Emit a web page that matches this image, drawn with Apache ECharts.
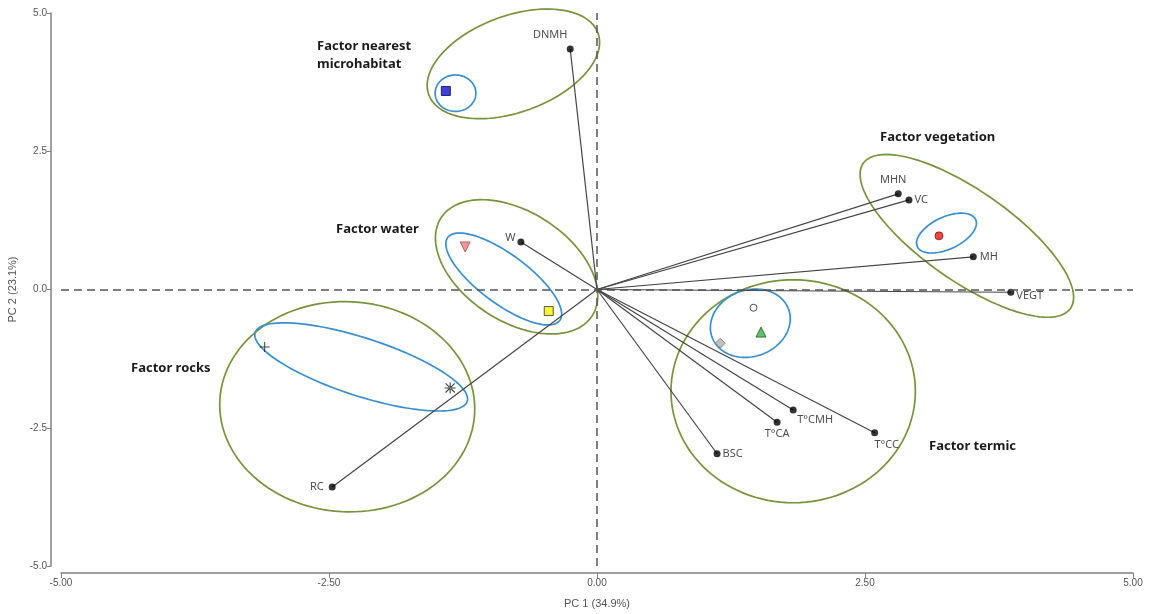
<!DOCTYPE html>
<html>
<head>
<meta charset="utf-8">
<script src="https://cdn.jsdelivr.net/npm/echarts@6/dist/echarts.min.js"></script>
<style>
  html, body { margin: 0; padding: 0; background: #fff; }
  #main { width: 1155px; height: 614px; }
</style>
</head>
<body>
<div id="main"></div>
<script>
// variable vectors (loadings)
var varNames = ['DNMH', 'MHN', 'VC', 'MH', 'VEGT', 'W', 'RC', 'BSC', 'T°CA', 'T°CMH', 'T°CC'];
var varPC1 = [-0.25, 2.81, 2.91, 3.51, 3.86, -0.71, -2.47, 1.12, 1.68, 1.83, 2.59];
var varPC2 = [4.35, 1.73, 1.62, 0.59, -0.05, 0.86, -3.57, -2.97, -2.40, -2.18, -2.59];

// group centroids
var groupNames = ['g1', 'g2', 'g3', 'g4', 'g5', 'g6', 'g7', 'g8', 'g9'];
var groupPC1 = [-1.41, 3.19, -1.23, -0.45, -3.10, -1.37, 1.46, 1.53, 1.15];
var groupPC2 = [3.59, 0.97, 0.77, -0.39, -1.04, -1.78, -0.33, -0.77, -0.97];

// ellipses: centre x, centre y, semi-axis a, semi-axis b (PC1 units), angle (deg)
var outerEllipses = [
  [-0.78, 4.08, 0.84, 0.45, -20],
  [3.45, 0.97, 1.18, 0.42, 35],
  [-0.75, 0.41, 0.84, 0.51, 33],
  [-2.33, -2.12, 1.19, 0.98, 3],
  [1.83, -1.84, 1.14, 1.04, 0]
];
var innerEllipses = [
  [-1.32, 3.55, 0.19, 0.17, 0],
  [3.26, 1.02, 0.30, 0.15, -25],
  [-0.87, 0.19, 0.65, 0.23, 36.5],
  [-2.20, -1.40, 1.04, 0.27, 18],
  [1.43, -0.61, 0.38, 0.31, -20]
];

var xTicks = [-5, -2.5, 0, 2.5, 5];
var yTicks = [-5, -2.5, 0, 2.5, 5];

var labelStyle = {
  'DNMH': { position: 'top', offset: [-20, 0] },
  'MHN': { position: 'top', offset: [-5, 0] },
  'VC': { position: 'right', distance: 2 },
  'MH': { position: 'right', distance: 3 },
  'VEGT': { position: 'right', distance: 2, offset: [0, 4] },
  'W': { position: 'left', distance: 2, offset: [0, -4] },
  'RC': { position: 'left', distance: 5 },
  'BSC': { position: 'right', distance: 2 },
  'T°CA': { position: 'bottom', distance: 3 },
  'T°CMH': { position: 'bottom', distance: 1, offset: [22, 0] },
  'T°CC': { position: 'bottom', distance: 3, offset: [12, 0] }
};

var plusPath = 'path://M4.5,0h1v4.5h4.5v1h-4.5v4.5h-1v-4.5h-4.5v-1h4.5z';
var starPath = 'path://M4.5,0h1v4.5h4.5v1h-4.5v4.5h-1v-4.5h-4.5v-1h4.5z M1.2,0.5L0.5,1.2L8.8,9.5L9.5,8.8Z M8.8,0.5L9.5,1.2L1.2,9.5L0.5,8.8Z';
var groupStyle = [
  { symbol: 'rect', size: 9, color: '#1010d0', border: '#00006a' },
  { symbol: 'circle', size: 8, color: '#e01818', border: '#901010' },
  { symbol: 'triangle', size: 10, color: '#e88080', border: '#b04848', rotate: 180 },
  { symbol: 'rect', size: 9, color: '#f2f200', border: '#333' },
  { symbol: plusPath, size: 10, color: '#111', border: '#111' },
  { symbol: starPath, size: 11, color: '#111', border: '#111' },
  { symbol: 'circle', size: 7, color: '#fff', border: '#222' },
  { symbol: 'triangle', size: 10, color: '#3cb043', border: '#1d5e22' },
  { symbol: 'diamond', size: 10, color: '#b0b0b0', border: '#777' }
];

function ellipseSeries(rows, color) {
  return {
    type: 'custom',
    data: rows,
    encode: { x: 0, y: 1 },
    silent: true,
    z: 2,
    renderItem: function (params, api) {
      var c = api.coord([api.value(0), api.value(1)]);
      var unit = api.size([1, 1])[0];
      var a = api.value(2) * unit, b = api.value(3) * unit;
      var t = api.value(4) * Math.PI / 180;
      var pts = [];
      for (var i = 0; i <= 120; i++) {
        var s = i / 120 * 2 * Math.PI;
        var ex = a * Math.cos(s), ey = b * Math.sin(s);
        pts.push([c[0] + ex * Math.cos(t) - ey * Math.sin(t), c[1] + ex * Math.sin(t) + ey * Math.cos(t)]);
      }
      return { type: 'polygon', shape: { points: pts }, style: { fill: 'none', stroke: color, lineWidth: 1.7 } };
    }
  };
}

var myChart = echarts.init(document.getElementById('main'));

var factorText = function (x, y, txt) {
  return { type: 'text', left: x, top: y, style: { text: txt, font: 'bold 13px "Noto Sans", sans-serif', fill: '#1a1a1a', lineHeight: 18 } };
};

var option = {
  animation: false,
  grid: { left: 61, right: 22, top: 13, bottom: 48, outerBoundsMode: 'none', containLabel: false },
  xAxis: {
    type: 'value', min: -5, max: 5, interval: 2.5, offset: 7,
    name: 'PC 1 (34.9%)', nameLocation: 'middle', nameGap: 25,
    nameTextStyle: { fontSize: 11, color: '#555', fontFamily: 'Liberation Sans' },
    axisLine: { onZero: false, lineStyle: { color: '#808080', width: 1.5 } },
    axisTick: { length: 5, lineStyle: { color: '#808080' } },
    axisLabel: { fontSize: 10, color: '#555', margin: 5, fontFamily: 'Liberation Sans',
      formatter: function (v) { return xTicks.indexOf(v) >= 0 ? v.toFixed(2) : ''; } },
    splitLine: { show: false }
  },
  yAxis: {
    type: 'value', min: -5, max: 5, interval: 2.5, offset: 10,
    name: 'PC 2 (23.1%)', nameLocation: 'middle', nameGap: 33, nameRotate: 90,
    nameTextStyle: { fontSize: 11, color: '#555', fontFamily: 'Liberation Sans' },
    axisLine: { onZero: false, lineStyle: { color: '#808080', width: 1.5 } },
    axisTick: { length: 4, lineStyle: { color: '#808080' } },
    axisLabel: { fontSize: 10, color: '#555', margin: 4, fontFamily: 'Liberation Sans',
      formatter: function (v) { return yTicks.indexOf(v) >= 0 ? v.toFixed(1) : ''; } },
    splitLine: { show: false }
  },
  graphic: [
    factorText(317, 37, 'Factor nearest\nmicrohabitat'),
    factorText(880, 128, 'Factor vegetation'),
    factorText(336, 220, 'Factor water'),
    factorText(131, 359, 'Factor rocks'),
    factorText(929, 437, 'Factor termic')
  ],
  series: [
    {
      type: 'line', data: [], silent: true,
      markLine: {
        symbol: 'none', silent: true, label: { show: false },
        lineStyle: { type: [8, 5], color: '#555', width: 1.5 },
        data: [{ xAxis: 0 }, { yAxis: 0 }]
      }
    },
    ellipseSeries(outerEllipses, '#77933c'),
    ellipseSeries(innerEllipses, '#3a8fcf'),
    {
      type: 'lines', coordinateSystem: 'cartesian2d', silent: true, z: 3,
      lineStyle: { color: '#454545', width: 1.2, opacity: 1 },
      data: varNames.map(function (n, i) { return { coords: [[0, 0], [varPC1[i], varPC2[i]]] }; })
    },
    {
      type: 'scatter', z: 4, symbolSize: 7,
      itemStyle: { color: '#000' },
      label: { show: true, fontSize: 11, color: '#222', fontFamily: 'Noto Sans', formatter: function (p) { return p.data.name; } },
      data: varNames.map(function (n, i) {
        return { name: n, value: [varPC1[i], varPC2[i]], label: labelStyle[n] };
      })
    },
    {
      type: 'scatter', z: 5,
      data: groupNames.map(function (n, i) {
        var s = groupStyle[i];
        return {
          name: n, value: [groupPC1[i], groupPC2[i]],
          symbol: s.symbol, symbolSize: s.size, symbolRotate: s.rotate || 0,
          itemStyle: { color: s.color, borderColor: s.border, borderWidth: (i === 4 || i === 5) ? 0 : 1 }
        };
      })
    }
  ]
};

myChart.setOption(option);
</script>
</body>
</html>
